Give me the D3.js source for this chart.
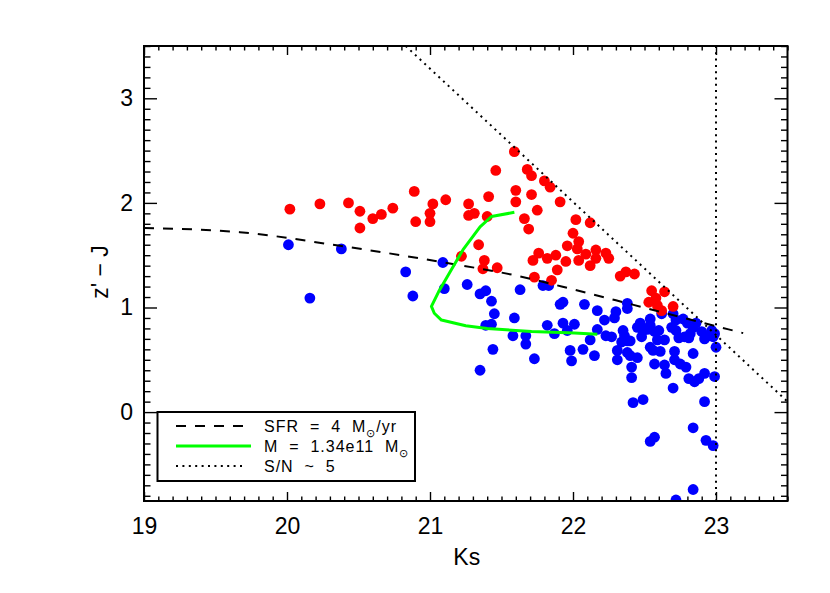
<!DOCTYPE html>
<html><head><meta charset="utf-8">
<script src="https://cdn.jsdelivr.net/npm/d3@7"></script>
<style>
body{margin:0;background:#fff;}
svg{display:block;background:#fff;}
text{font-family:"Liberation Sans",Arial,sans-serif;fill:#000;}
</style></head><body>
<svg id="chart" width="830" height="593"></svg>
<script>
// ---- data ----
const xTickLabels = [19, 20, 21, 22, 23];
const yTickLabels = [0, 1, 2, 3];
const xLabel = "Ks";
const yLabel = "z' \u2212 J";

const ksRed = [20.02,20.23,20.43,20.51,20.51,20.60,20.66,20.74,20.89,20.90,21.00,21.00,21.02,21.11,21.27,21.27,21.31,21.41,21.40,21.46,21.59,21.60,21.60,21.68,21.71,21.71,21.75,21.66,21.69,21.80,21.84,21.91,22.02,22.12,22.00,21.96,22.04,22.03,21.34,21.22,21.38,21.37,21.47,21.72,21.76,21.82,21.88,21.89,21.73,21.85,21.95,22.04,22.09,22.12,22.16,22.16,22.23,22.25,22.33,22.37,22.43,22.55,22.64,22.58,22.53,22.59,22.62,22.70];
const zjRed = [1.94,1.99,2.00,1.92,1.76,1.85,1.89,1.95,2.11,1.82,1.82,1.90,1.99,2.03,1.99,1.88,1.90,2.06,1.87,2.31,2.49,2.12,2.01,2.32,2.26,2.08,1.93,1.85,1.75,2.21,2.15,2.01,1.84,1.81,1.71,1.59,1.63,1.56,1.60,1.49,1.45,1.37,1.38,1.45,1.52,1.47,1.50,1.36,1.29,1.26,1.44,1.45,1.51,1.40,1.55,1.47,1.52,1.47,1.30,1.34,1.32,1.16,1.15,1.09,1.05,1.02,0.97,1.01];

const ksBlue = [20.01,20.38,20.16,20.83,20.88,21.09,21.10,21.26,21.35,21.39,21.43,21.45,21.39,21.43,21.44,21.35,21.63,21.59,21.58,21.67,21.67,21.73,21.79,21.83,21.82,21.87,21.91,21.93,21.93,21.96,22.01,21.98,21.99,22.08,22.07,22.12,22.15,22.17,22.17,22.22,22.23,22.27,22.30,22.29,22.31,22.31,22.38,22.38,22.35,22.38,22.34,22.40,22.38,22.45,22.47,22.40,22.45,22.41,22.41,22.49,22.48,22.54,22.54,22.52,22.57,22.59,22.64,22.60,22.54,22.56,22.61,22.57,22.64,22.65,22.62,22.70,22.72,22.69,22.72,22.74,22.78,22.81,22.77,22.80,22.71,22.71,22.75,22.79,22.84,22.84,22.86,22.90,22.92,22.95,22.97,22.98,23.00,22.81,22.85,22.88,22.92,22.99,22.70,22.42,22.49,22.92,22.84,22.54,22.57,22.93,22.98,22.84,22.72,22.99,22.82,22.36];
const zjBlue = [1.60,1.56,1.09,1.34,1.11,1.43,1.18,1.22,1.13,1.16,1.06,0.94,0.83,0.84,0.60,0.40,1.17,0.90,0.73,0.73,0.65,0.51,1.21,1.21,0.83,0.75,1.03,1.05,0.85,0.78,0.84,0.59,0.49,1.03,0.60,0.69,0.54,0.97,0.79,0.88,0.73,0.72,0.96,0.90,0.59,0.50,1.04,0.99,0.78,0.68,0.67,0.68,0.57,0.81,0.85,0.54,0.52,0.43,0.33,0.78,0.72,0.89,0.83,0.79,0.77,0.69,0.69,0.78,0.62,0.59,0.58,0.46,0.45,0.37,0.94,0.94,0.88,0.81,0.78,0.71,0.72,0.71,0.89,0.85,0.58,0.50,0.46,0.43,0.56,0.81,0.85,0.77,0.70,0.73,0.78,0.72,0.62,0.32,0.29,0.32,0.37,0.34,0.23,0.09,0.12,0.10,-0.15,-0.28,-0.24,-0.27,-0.32,-0.74,-0.84,0.75,0.75,0.73];

// SFR = 4 Msun/yr track (dashed)
const sfrKs = [19.00,19.67,20.37,21.10,21.62,22.01,22.41,22.92,23.19];
const sfrZJ = [1.76,1.72,1.59,1.43,1.30,1.17,1.03,0.85,0.755];
// M = 1.34e11 Msun track (green)
const massKs = [21.59,21.43,21.35,21.23,21.14,21.06,21.01,21.03,21.08,21.25,21.40,21.71,22.01,22.17];
const massZJ = [1.91,1.87,1.77,1.55,1.34,1.15,1.01,0.945,0.88,0.825,0.80,0.77,0.755,0.745];
// S/N ~ 5 limits (dotted)
const snKs = [20.83, 23.5];
const snZJ = [3.5, 0.10];
const snLimitKs = 23;

const legendLabels = ["SFR  =  4  M", "M  =  1.34e11  M", "S/N  ~  5"];
const legendSuffix = ["/yr", "", ""];

// ---- layout ----
const svg = d3.select("#chart");
const L = 144, R = 787.5, T = 46, B = 501;
const x = d3.scaleLinear().domain([19, 23.5]).range([L, R]);
const y = d3.scaleLinear().domain([-0.85, 3.5]).range([B, T]);

svg.append("defs").append("clipPath").attr("id", "clip")
  .append("rect").attr("x", L).attr("y", T).attr("width", R - L).attr("height", B - T);

const minorX = d3.range(190, 236).map(v => v / 10).filter(v => Math.abs(v - Math.round(v)) > 1e-6);
const minorY = d3.range(-8, 36).map(v => v / 10).filter(v => Math.abs(v - Math.round(v)) > 1e-6);

function styleAxis(g) {
  g.select(".domain").remove();
  g.selectAll(".tick line").attr("stroke", "#000").attr("stroke-width", 1.4);
  g.selectAll(".tick text").attr("font-size", 23).attr("font-family", "Liberation Sans, Arial, sans-serif").attr("fill", "#000");
}

// bottom
svg.append("g").attr("transform", `translate(0,${B})`)
  .call(d3.axisBottom(x).tickValues(xTickLabels).tickSize(-9).tickPadding(17).tickFormat(d3.format("d"))).call(styleAxis);
svg.append("g").attr("transform", `translate(0,${B})`)
  .call(d3.axisBottom(x).tickValues(minorX).tickSize(-4.5).tickFormat("")).call(styleAxis);
// top
svg.append("g").attr("transform", `translate(0,${T})`)
  .call(d3.axisTop(x).tickValues(xTickLabels).tickSize(-9).tickFormat("")).call(styleAxis);
svg.append("g").attr("transform", `translate(0,${T})`)
  .call(d3.axisTop(x).tickValues(minorX).tickSize(-4.5).tickFormat("")).call(styleAxis);
// left
svg.append("g").attr("transform", `translate(${L},0)`)
  .call(d3.axisLeft(y).tickValues(yTickLabels).tickSize(-13).tickPadding(11).tickFormat(d3.format("d"))).call(styleAxis);
svg.append("g").attr("transform", `translate(${L},0)`)
  .call(d3.axisLeft(y).tickValues(minorY).tickSize(-6.5).tickFormat("")).call(styleAxis);
// right
svg.append("g").attr("transform", `translate(${R},0)`)
  .call(d3.axisRight(y).tickValues(yTickLabels).tickSize(-13).tickFormat("")).call(styleAxis);
svg.append("g").attr("transform", `translate(${R},0)`)
  .call(d3.axisRight(y).tickValues(minorY).tickSize(-6.5).tickFormat("")).call(styleAxis);

// axis titles
svg.append("text").attr("x", (L + R) / 2 + 1).attr("y", 565)
  .attr("text-anchor", "middle").attr("font-size", 23).text(xLabel);
svg.append("text").attr("transform", "translate(100,272) rotate(-90)")
  .attr("text-anchor", "middle").attr("dy", "0.35em").attr("font-size", 23).text(yLabel);

// plot contents
const plot = svg.append("g").attr("clip-path", "url(#clip)");

plot.append("g").selectAll("circle").data(d3.zip(ksBlue, zjBlue)).join("circle")
  .attr("cx", d => x(d[0])).attr("cy", d => y(d[1])).attr("r", 5.4).attr("fill", "#0000ff");
plot.append("g").selectAll("circle").data(d3.zip(ksRed, zjRed)).join("circle")
  .attr("cx", d => x(d[0])).attr("cy", d => y(d[1])).attr("r", 5.4).attr("fill", "#ff0000");

const lineGen = d3.line().x(d => x(d[0])).y(d => y(d[1]));

plot.append("path").datum(d3.zip(sfrKs, sfrZJ))
  .attr("d", lineGen.curve(d3.curveMonotoneX)).attr("fill", "none")
  .attr("stroke", "#000").attr("stroke-width", 2).attr("stroke-dasharray", "10,9");

plot.append("path").datum(d3.zip(massKs, massZJ))
  .attr("d", d3.line().x(d => x(d[0])).y(d => y(d[1])).curve(d3.curveLinear)).attr("fill", "none")
  .attr("stroke", "#00ff00").attr("stroke-width", 3).attr("stroke-linejoin", "round");

plot.append("path").datum(d3.zip(snKs, snZJ))
  .attr("d", d3.line().x(d => x(d[0])).y(d => y(d[1]))).attr("fill", "none")
  .attr("stroke", "#000").attr("stroke-width", 2).attr("stroke-dasharray", "2,4.4");

plot.append("line").attr("x1", x(snLimitKs)).attr("x2", x(snLimitKs))
  .attr("y1", y(3.5)).attr("y2", y(-0.85))
  .attr("stroke", "#000").attr("stroke-width", 2).attr("stroke-dasharray", "2,4.3");

// frame
svg.append("rect").attr("x", L).attr("y", T).attr("width", R - L).attr("height", B - T)
  .attr("fill", "none").attr("stroke", "#000").attr("stroke-width", 2);

// legend
const lg = svg.append("g");
lg.append("rect").attr("x", 157.5).attr("y", 412).attr("width", 257.5).attr("height", 69)
  .attr("fill", "#fff").attr("stroke", "#000").attr("stroke-width", 2);
const rowsY = [426, 446, 466];
lg.append("line").attr("x1", 176).attr("x2", 244).attr("y1", rowsY[0]).attr("y2", rowsY[0])
  .attr("stroke", "#000").attr("stroke-width", 2).attr("stroke-dasharray", "10,9");
lg.append("line").attr("x1", 176).attr("x2", 251).attr("y1", rowsY[1]).attr("y2", rowsY[1])
  .attr("stroke", "#00ff00").attr("stroke-width", 3);
lg.append("line").attr("x1", 176).attr("x2", 246).attr("y1", rowsY[2]).attr("y2", rowsY[2])
  .attr("stroke", "#000").attr("stroke-width", 2).attr("stroke-dasharray", "2,4.4");
legendLabels.forEach((lab, i) => {
  const t = lg.append("text").attr("x", 264).attr("y", rowsY[i] + 6)
    .attr("font-size", 16).attr("letter-spacing", 1).style("white-space", "pre");
  t.append("tspan").text(lab);
  if (i < 2) {
    t.append("tspan").attr("font-size", 11).attr("dy", 5).text("\u2299");
    if (legendSuffix[i]) t.append("tspan").attr("dy", -5).text(legendSuffix[i]);
  }
});
</script>
</body></html>
